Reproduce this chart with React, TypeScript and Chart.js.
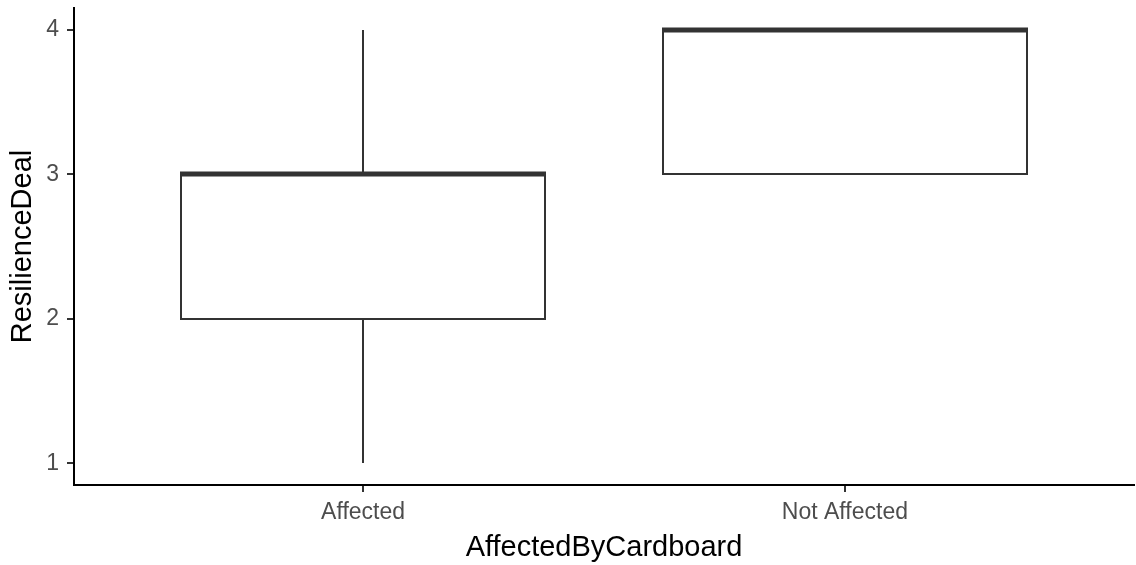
import React, { useEffect, useRef } from "react";
import { Chart, registerables } from "chart.js";

Chart.register(...registerables);

// Box summaries per group
const categories = ["Affected", "Not Affected"];
const whiskerLow = [1, 3];
const lowerQuartile = [2, 3];
const medians = [3, 4];
const upperQuartile = [3, 4];
const whiskerHigh = [4, 4];
const yTicks = [1, 2, 3, 4];

const xTitle = "AffectedByCardboard";
const yTitle = "ResilienceDeal";

const FONT = "'Liberation Sans', Arial, sans-serif";
const INK = "#333333";

const boxPlugin = {
  id: "boxes",
  afterDatasetsDraw(chart: any) {
    const { ctx, scales } = chart;
    const xs = scales.x;
    const ys = scales.y;
    const halfW = 0.377;
    ctx.save();
    ctx.strokeStyle = INK;
    categories.forEach((_, i) => {
      const pos = i + 1;
      const cx = Math.round(xs.getPixelForValue(pos));
      const left = Math.round(xs.getPixelForValue(pos - halfW));
      const right = Math.round(xs.getPixelForValue(pos + halfW));
      const q1 = Math.round(ys.getPixelForValue(lowerQuartile[i]));
      const q3 = Math.round(ys.getPixelForValue(upperQuartile[i]));
      const lo = Math.round(ys.getPixelForValue(whiskerLow[i]));
      const hi = Math.round(ys.getPixelForValue(whiskerHigh[i]));
      const med = Math.round(ys.getPixelForValue(medians[i]));
      ctx.lineWidth = 2;
      // whiskers
      ctx.beginPath();
      if (lo !== q1) {
        ctx.moveTo(cx, q1);
        ctx.lineTo(cx, lo);
      }
      if (hi !== q3) {
        ctx.moveTo(cx, q3);
        ctx.lineTo(cx, hi);
      }
      ctx.stroke();
      // box
      ctx.fillStyle = "#ffffff";
      ctx.fillRect(left, q3, right - left, q1 - q3);
      ctx.strokeRect(left, q3, right - left, q1 - q3);
      // median
      ctx.lineWidth = 5;
      ctx.beginPath();
      ctx.moveTo(left - 1, med);
      ctx.lineTo(right + 1, med);
      ctx.stroke();
    });
    ctx.restore();
  },
};

export default function App() {
  const canvasRef = useRef<HTMLCanvasElement | null>(null);

  useEffect(() => {
    document.body.style.margin = "0";
    const canvas = canvasRef.current;
    if (!canvas) return;
    const chart = new Chart(canvas, {
      type: "scatter",
      data: { datasets: [{ data: [], pointRadius: 0 }] },
      options: {
        animation: false,
        responsive: false,
        layout: { padding: { top: 8, right: 2, left: 0, bottom: 0 } },
        plugins: { legend: { display: false }, tooltip: { enabled: false } },
        scales: {
          x: {
            type: "linear",
            min: 0.4,
            max: 2.6,
            afterBuildTicks: (scale: any) => {
              scale.ticks = categories.map((_, i) => ({ value: i + 1 }));
            },
            afterFit: (scale: any) => {
              scale.height = 80;
              scale.paddingLeft = 0;
              scale.paddingRight = 0;
            },
            ticks: {
              autoSkip: false,
              maxRotation: 0,
              color: "#4d4d4d",
              font: { family: FONT, size: 23 },
              padding: 7,
              callback: (v: any) => categories[Number(v) - 1] ?? "",
            },
            grid: {
              drawOnChartArea: false,
              drawTicks: true,
              tickLength: 7,
              color: INK,
              lineWidth: 2,
            },
            border: { display: true, color: "#000000", width: 2 },
            title: {
              display: true,
              text: xTitle,
              color: "#000000",
              font: { family: FONT, size: 29 },
              padding: { top: 0, bottom: 0 },
            },
          },
          y: {
            type: "linear",
            min: 0.85,
            max: 4.15,
            afterBuildTicks: (scale: any) => {
              scale.ticks = yTicks.map((v) => ({ value: v }));
            },
            afterFit: (scale: any) => {
              scale.width = 74;
              scale.paddingTop = 0;
              scale.paddingBottom = 0;
            },
            ticks: {
              color: "#4d4d4d",
              font: { family: FONT, size: 23 },
              padding: 8,
            },
            grid: {
              drawOnChartArea: false,
              drawTicks: true,
              tickLength: 7,
              color: INK,
              lineWidth: 2,
            },
            border: { display: true, color: "#000000", width: 2 },
            title: {
              display: true,
              text: yTitle,
              color: "#000000",
              font: { family: FONT, size: 29 },
              padding: { top: 6, bottom: 4 },
            },
          },
        },
      },
      plugins: [boxPlugin],
    });
    return () => chart.destroy();
  }, []);

  return (
    <div style={{ width: 1136, height: 565, background: "#ffffff" }}>
      <canvas ref={canvasRef} width={1136} height={565} style={{ display: "block" }} />
    </div>
  );
}
